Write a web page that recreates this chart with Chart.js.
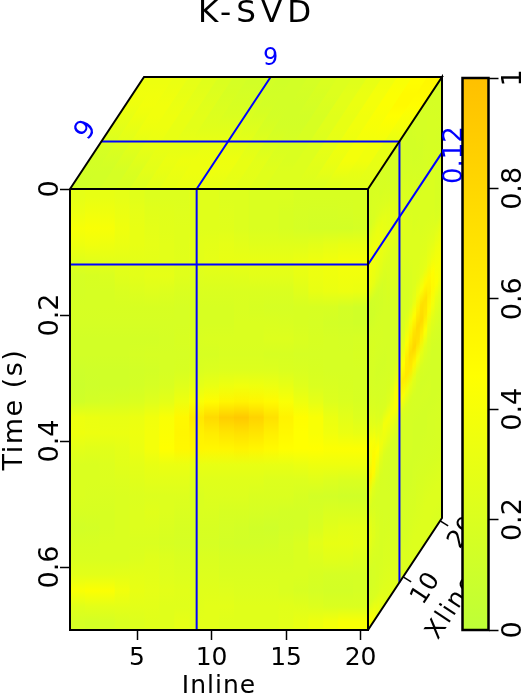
<!DOCTYPE html>
<html>
<head>
<meta charset="utf-8">
<script src="https://cdn.jsdelivr.net/npm/chart.js@4"></script>
<style>
    html, body { margin: 0; padding: 0; background: #fff; overflow: hidden; }
    canvas { position: absolute; top: 0; }
    #cube { left: 0; }
    #bar { left: 452px; }
</style>
</head>
<body>
<canvas id="cube" width="514" height="696"></canvas>
<canvas id="bar" width="70" height="696"></canvas>
<script>
    var titleText = 'K-SVD';
    var inlineLabel = 'Inline';
    var timeLabel = 'Time (s)';
    var xlineLabel = 'Xline';

    var inlineRange = [0.5, 20.5];
    var xlineRange = [0.5, 20.5];
    var timeRange = [0, 0.7];
    var barRange = [0, 1];
    var inlineTicks = [5, 10, 15, 20];
    var timeTicks = [0, 0.2, 0.4, 0.6];
    var xlineTicks = [10, 20];
    var barTicks = [0, 0.2, 0.4, 0.6, 0.8, 1];

    // blue slice positions
    var sliceInline = 9;
    var sliceXline = 9;
    var sliceTime = 0.12;

    // value -> colour, same for cube and colour bar
    var colorStops = [0, 0.46, 1];
    var colorValues = [[190, 255, 55], [255, 255, 0], [255, 192, 0]];

    // front face: one row per 0.025 s, one column per inline
    var frontFace = [
        [.28,.30,.30,.28,.25,.22,.22,.22,.24,.24,.22,.22,.20,.20,.20,.18,.18,.18,.18,.18],
        [.33,.36,.35,.32,.28,.25,.24,.23,.24,.24,.23,.22,.20,.20,.18,.17,.16,.16,.17,.18],
        [.40,.42,.40,.35,.30,.27,.25,.24,.24,.24,.24,.22,.20,.20,.18,.16,.15,.15,.15,.16],
        [.34,.36,.34,.32,.30,.28,.26,.24,.26,.27,.28,.26,.24,.24,.24,.24,.26,.28,.30,.30],
        [.25,.26,.27,.27,.27,.27,.26,.25,.26,.28,.30,.30,.30,.30,.30,.32,.34,.36,.38,.38],
        [.17,.18,.20,.24,.26,.28,.28,.24,.23,.24,.24,.25,.26,.26,.26,.30,.33,.35,.36,.36],
        [.16,.17,.18,.20,.22,.23,.22,.20,.20,.20,.20,.20,.20,.20,.20,.24,.30,.32,.33,.32],
        [.17,.17,.18,.18,.18,.18,.18,.17,.18,.18,.18,.19,.18,.17,.17,.18,.18,.18,.15,.13],
        [.16,.16,.17,.17,.17,.17,.17,.17,.18,.18,.18,.20,.20,.20,.19,.18,.17,.15,.14,.13],
        [.14,.14,.15,.15,.15,.15,.16,.18,.19,.20,.20,.20,.20,.22,.22,.20,.18,.17,.16,.17],
        [.14,.14,.15,.15,.16,.17,.17,.17,.18,.18,.19,.19,.19,.18,.18,.17,.17,.17,.17,.18],
        [.11,.12,.13,.13,.14,.15,.17,.18,.20,.21,.22,.22,.22,.22,.20,.19,.18,.17,.17,.17],
        [.10,.11,.13,.13,.15,.17,.19,.24,.28,.31,.34,.36,.35,.33,.30,.24,.20,.19,.18,.17],
        [.13,.15,.17,.18,.20,.23,.27,.34,.42,.49,.54,.56,.54,.50,.42,.34,.28,.22,.20,.18],
        [.33,.32,.30,.30,.32,.36,.42,.52,.66,.78,.88,.92,.84,.72,.56,.48,.42,.32,.26,.22],
        [.34,.33,.32,.32,.34,.38,.44,.54,.58,.62,.68,.72,.68,.60,.52,.46,.42,.36,.32,.30],
        [.26,.25,.25,.27,.32,.38,.46,.52,.54,.53,.54,.56,.54,.50,.47,.46,.46,.44,.44,.44],
        [.20,.20,.22,.25,.27,.30,.32,.32,.30,.30,.30,.30,.30,.30,.30,.32,.34,.34,.34,.34],
        [.20,.20,.21,.22,.24,.26,.26,.26,.24,.24,.24,.24,.24,.22,.22,.22,.24,.22,.20,.20],
        [.20,.19,.19,.20,.21,.22,.22,.22,.20,.22,.22,.22,.20,.20,.20,.18,.15,.14,.13,.13],
        [.18,.18,.18,.20,.22,.24,.22,.20,.20,.20,.18,.18,.17,.16,.15,.15,.17,.20,.20,.20],
        [.14,.15,.18,.20,.22,.22,.20,.18,.18,.18,.16,.15,.13,.12,.14,.15,.20,.25,.27,.27],
        [.18,.18,.20,.20,.20,.20,.18,.17,.17,.17,.15,.14,.14,.15,.17,.20,.26,.30,.30,.28],
        [.20,.20,.20,.20,.22,.24,.22,.20,.20,.20,.18,.18,.18,.18,.18,.20,.22,.25,.24,.22],
        [.26,.26,.26,.27,.27,.26,.23,.22,.22,.22,.20,.20,.20,.20,.20,.20,.18,.16,.16,.16],
        [.42,.44,.43,.36,.30,.28,.26,.25,.24,.24,.23,.22,.22,.22,.20,.18,.16,.15,.15,.16],
        [.24,.26,.27,.27,.26,.26,.24,.24,.25,.26,.26,.24,.24,.24,.25,.24,.22,.20,.20,.20],
        [.16,.15,.17,.20,.22,.24,.24,.28,.26,.26,.24,.24,.24,.24,.26,.30,.34,.38,.42,.42]
    ];

    // side face: one row per 0.025 s, one column per xline
    var sideFace = [
        [.18,.18,.18,.17,.17,.16,.16,.16,.16,.16,.15,.15,.16,.16,.16,.16,.16,.16,.16,.16],
        [.18,.19,.19,.18,.18,.17,.17,.16,.16,.16,.15,.15,.15,.16,.16,.16,.17,.17,.16,.16],
        [.17,.19,.21,.22,.21,.20,.19,.18,.18,.17,.16,.16,.15,.15,.15,.16,.17,.17,.17,.17],
        [.28,.30,.31,.30,.28,.26,.24,.22,.20,.20,.19,.18,.17,.16,.16,.17,.17,.17,.16,.16],
        [.36,.36,.35,.33,.30,.28,.26,.25,.23,.22,.20,.20,.19,.18,.17,.17,.18,.18,.18,.17],
        [.36,.34,.32,.30,.28,.27,.26,.25,.24,.24,.22,.20,.20,.20,.20,.20,.20,.20,.18,.17],
        [.32,.30,.26,.24,.22,.22,.22,.22,.22,.22,.22,.22,.20,.20,.20,.20,.20,.20,.18,.17],
        [.13,.14,.15,.16,.18,.20,.22,.22,.22,.22,.22,.22,.22,.22,.20,.20,.20,.20,.18,.18],
        [.13,.13,.14,.15,.16,.18,.20,.20,.20,.20,.20,.22,.22,.22,.22,.22,.22,.22,.20,.20],
        [.17,.16,.16,.16,.16,.16,.17,.18,.18,.18,.19,.20,.22,.22,.24,.24,.26,.26,.28,.30],
        [.18,.18,.17,.17,.16,.16,.17,.18,.18,.18,.18,.20,.22,.24,.26,.28,.32,.34,.36,.36],
        [.17,.17,.16,.16,.16,.16,.17,.17,.18,.18,.20,.22,.28,.36,.42,.50,.52,.48,.40,.40],
        [.17,.16,.15,.15,.15,.16,.16,.16,.18,.22,.30,.38,.48,.60,.72,.72,.60,.50,.44,.38],
        [.18,.17,.16,.16,.16,.16,.17,.18,.24,.32,.44,.58,.70,.78,.78,.66,.50,.38,.30,.26],
        [.22,.20,.18,.17,.17,.18,.20,.24,.34,.46,.62,.74,.80,.72,.60,.44,.30,.25,.22,.20],
        [.30,.26,.22,.20,.20,.22,.30,.40,.52,.62,.66,.64,.54,.40,.30,.24,.20,.18,.17,.16],
        [.44,.40,.32,.30,.38,.38,.38,.42,.46,.42,.36,.30,.25,.20,.18,.17,.16,.15,.15,.15],
        [.36,.50,.46,.36,.32,.30,.26,.24,.22,.20,.19,.18,.17,.16,.15,.15,.15,.15,.15,.15],
        [.58,.50,.32,.24,.20,.19,.18,.17,.17,.16,.16,.16,.16,.16,.16,.16,.16,.15,.15,.15],
        [.30,.24,.20,.18,.17,.17,.16,.16,.16,.16,.16,.16,.15,.15,.15,.15,.15,.15,.15,.15],
        [.20,.18,.17,.17,.17,.16,.16,.16,.16,.16,.16,.16,.15,.15,.15,.15,.16,.16,.16,.16],
        [.27,.22,.18,.17,.17,.17,.16,.16,.15,.15,.15,.15,.15,.15,.16,.16,.16,.16,.17,.17],
        [.28,.24,.20,.18,.17,.17,.17,.16,.16,.15,.15,.15,.16,.16,.17,.17,.17,.17,.17,.17],
        [.22,.20,.19,.18,.18,.18,.17,.16,.16,.16,.16,.17,.17,.18,.18,.18,.18,.18,.18,.18],
        [.16,.17,.18,.18,.19,.19,.18,.18,.17,.17,.17,.18,.18,.19,.19,.20,.20,.20,.20,.20],
        [.16,.17,.18,.19,.20,.20,.20,.20,.19,.18,.18,.19,.20,.20,.21,.22,.22,.22,.22,.22],
        [.20,.20,.20,.21,.22,.22,.22,.22,.22,.21,.20,.21,.22,.22,.22,.22,.22,.22,.22,.22],
        [.42,.38,.32,.28,.25,.24,.24,.23,.23,.22,.22,.22,.22,.22,.22,.22,.22,.20,.20,.20]
    ];

    // top face: rows go from the front edge to the back edge, one column per inline
    var topFace = [
        [.13,.14,.16,.18,.22,.26,.30,.32,.32,.30,.28,.26,.24,.22,.22,.22,.22,.24,.26,.26],
        [.14,.14,.16,.20,.26,.30,.32,.34,.34,.33,.30,.27,.24,.22,.22,.24,.28,.32,.30,.28],
        [.15,.16,.20,.24,.28,.32,.34,.34,.34,.34,.30,.26,.22,.20,.22,.26,.32,.38,.36,.30],
        [.17,.20,.24,.28,.30,.30,.30,.32,.32,.30,.26,.22,.20,.20,.22,.28,.34,.38,.36,.30],
        [.22,.26,.30,.32,.30,.28,.28,.28,.28,.26,.22,.18,.16,.18,.22,.28,.34,.38,.38,.32],
        [.26,.30,.34,.34,.30,.26,.24,.24,.24,.22,.18,.15,.15,.18,.24,.30,.36,.40,.42,.38],
        [.30,.34,.36,.34,.30,.26,.22,.20,.20,.18,.15,.14,.14,.18,.24,.30,.36,.42,.46,.42],
        [.34,.37,.36,.32,.28,.24,.20,.18,.17,.15,.14,.14,.16,.20,.26,.32,.38,.44,.50,.48],
        [.36,.36,.34,.30,.26,.22,.18,.16,.15,.14,.14,.15,.18,.22,.26,.32,.38,.44,.50,.50],
        [.34,.34,.32,.28,.24,.20,.16,.14,.14,.13,.14,.16,.20,.22,.24,.30,.36,.42,.48,.52]
    ];

    var font = 'DejaVu Sans';
    var blue = '#0000ff';

    // one xline range moves the point this far in inline / time units
    var depthInline = 74 / 14.9;
    var depthTime = 112 / 630;

    function project(inline, time, xline) {
        var f = (xline - xlineRange[0]) / (xlineRange[1] - xlineRange[0]);
        return { x: inline + f * depthInline, y: time - f * depthTime };
    }

    function valueColor(v) {
        var i = v < colorStops[1] ? 0 : 1;
        var k = Math.min(1, Math.max(0, (v - colorStops[i]) / (colorStops[i + 1] - colorStops[i])));
        var a = colorValues[i], b = colorValues[i + 1];
        return 'rgb(' + [0, 1, 2].map(function (n) { return Math.round(a[n] + (b[n] - a[n]) * k); }).join(',') + ')';
    }

    // letter spacing is not a Chart.js font option, so wrap the draw call
    function spaced(obj, method, px) {
        if (obj['_sp' + method]) return;
        var orig = obj[method];
        obj[method] = function () {
            var ctx = this.ctx;
            ctx.letterSpacing = px + 'px';
            orig.apply(this, arguments);
            ctx.letterSpacing = '0px';
        };
        obj['_sp' + method] = true;
    }

    function fixedTicks(values) {
        return function (scale) {
            scale.ticks = values.map(function (v) { return { value: v }; });
        };
    }

    function plainLabel(v) {
        return String(v);
    }

    /*
     * a face is a parallelogram: columns are flat, rows are shaded along the column
     */
    function drawFace(chart, rows, o, u, v) {
        var ctx = chart.ctx, sx = chart.scales.x, sy = chart.scales.y;
        var px = function (p) { return [sx.getPixelForValue(p.x), sy.getPixelForValue(p.y)]; };
        var p0 = px(o), pu = px(u), pv = px(v);
        var nr = rows.length, nc = rows[0].length;
        ctx.save();
        ctx.transform(pu[0] - p0[0], pu[1] - p0[1], pv[0] - p0[0], pv[1] - p0[1], p0[0], p0[1]);
        for (var c = 0; c < nc; c++) {
            var g = ctx.createLinearGradient(0, 0, 0, 1);
            for (var r = 0; r < nr; r++) {
                g.addColorStop((r + 0.5) / nr, valueColor(rows[r][c]));
            }
            ctx.fillStyle = g;
            // runs under the next column so no seam shows
            ctx.fillRect(c / nc, 0, Math.min(2 / nc, 1 - c / nc), 1);
        }
        ctx.restore();
    }

    function drawText(chart, text, p, dx, dy, angle, size, color, spacing) {
        var ctx = chart.ctx;
        ctx.save();
        ctx.translate(chart.scales.x.getPixelForValue(p.x) + dx, chart.scales.y.getPixelForValue(p.y) + dy);
        ctx.rotate(angle);
        ctx.font = size + 'px "' + font + '"';
        ctx.fillStyle = color;
        ctx.textAlign = 'center';
        ctx.textBaseline = 'middle';
        ctx.letterSpacing = (spacing || 0) + 'px';
        ctx.fillText(text, 0, 0);
        ctx.restore();
    }

    var cubeFaces = {
        id: 'cubeFaces',
        beforeDraw: function (chart) {
            spaced(chart.scales.x, 'drawTitle', 1);
            spaced(chart.scales.y, 'drawTitle', 1.5);
            spaced(chart.titleBlock, 'draw', 5);
        },
        beforeDatasetsDraw: function (chart) {
            drawFace(chart, frontFace, project(i0, t0, x0), project(i1, t0, x0), project(i0, t1, x0));
            drawFace(chart, topFace, project(i0, t0, x0), project(i1, t0, x0), project(i0, t0, x1));
            drawFace(chart, sideFace, project(i1, t0, x0), project(i1, t0, x1), project(i1, t1, x0));
        },
        afterDatasetsDraw: function (chart) {
            var ctx = chart.ctx, sx = chart.scales.x, sy = chart.scales.y;
            var edge = -Math.atan2(112, 74);

            // xline axis along the bottom edge of the side face
            ctx.save();
            ctx.strokeStyle = '#000';
            ctx.lineWidth = 1.5;
            xlineTicks.forEach(function (v) {
                var p = project(i1, t1, v);
                var a = sx.getPixelForValue(p.x), b = sy.getPixelForValue(p.y);
                ctx.beginPath();
                ctx.moveTo(a, b);
                ctx.lineTo(a + 8, b + 5);
                ctx.stroke();
                drawText(chart, String(v), p, 23, 12, edge, 25);
            });
            ctx.restore();
            drawText(chart, xlineLabel, project(i1, t1, 10), 49, 30, edge, 25, '#000', 2);

            // slice labels in blue
            drawText(chart, String(sliceXline), project(i0, t0, sliceXline), -15, -11, edge, 27, blue);
            drawText(chart, String(sliceInline), project(sliceInline, t0, x1), 0, -18, 0, 24, blue);
            drawText(chart, String(sliceTime), project(i1, sliceTime, x1), 13, 2.5, -Math.PI / 2, 26, blue);
        }
    };

    function path(points) {
        return points.map(function (p) { return project(p[0], p[1], p[2]); });
    }

    var i0 = inlineRange[0], i1 = inlineRange[1], x0 = xlineRange[0], x1 = xlineRange[1], t0 = timeRange[0], t1 = timeRange[1];

    // the x values go back and forth so Chart.js keeps every point of the path
    var boxEdges = path([
        [i0, t0, x0], [i1, t0, x0], [i1, t1, x0], [i0, t1, x0], [i0, t0, x0],
        [i0, t0, x1], [i1, t0, x1], [i1, t0, x0], [i1, t0, x1], [i1, t1, x1], [i1, t1, x0]
    ]);
    var inlineSlice = path([[sliceInline, t1, x0], [sliceInline, t0, x0], [sliceInline, t0, x1]]);
    var timeSlice = path([[i1, sliceTime, x1], [i1, sliceTime, x0], [i0, sliceTime, x0]]);
    var xlineSlice = path([[i1, t1, sliceXline], [i1, t0, sliceXline], [i0, t0, sliceXline]]);

    function lineSet(data, color, width) {
        return {
            data: data,
            showLine: true,
            borderColor: color,
            borderWidth: width,
            pointRadius: 0,
            fill: false,
            tension: 0,
            clip: false
        };
    }

    var tickFont = { family: font, size: 25 };
    var sideFont = { family: font, size: 27 };

    new Chart('cube', {
        type: 'scatter',
        data: {
            datasets: [
                lineSet(boxEdges, '#000', 2),
                lineSet(inlineSlice, blue, 2),
                lineSet(timeSlice, blue, 2),
                lineSet(xlineSlice, blue, 2)
            ]
        },
        options: {
            responsive: false,
            animation: false,
            events: [],
            plugins: {
                legend: { display: false },
                tooltip: { enabled: false },
                title: {
                    display: true,
                    text: titleText,
                    color: '#000',
                    font: { family: font, size: 31, weight: 'normal', lineHeight: 1 },
                    padding: { top: -2, bottom: 160 }
                }
            },
            scales: {
                x: {
                    type: 'linear',
                    min: inlineRange[0],
                    max: inlineRange[1],
                    afterBuildTicks: fixedTicks(inlineTicks),
                    afterFit: function (s) { s.height = 66; },
                    border: { display: false },
                    grid: { drawOnChartArea: false, tickLength: 10, tickWidth: 1.5, tickColor: '#000' },
                    ticks: { callback: plainLabel, maxRotation: 0, autoSkip: false, color: '#000', font: tickFont, padding: 3.5 },
                    title: { display: true, text: inlineLabel, color: '#000', font: { family: font, size: 25, lineHeight: 1 }, padding: { top: 0, bottom: -3 } }
                },
                y: {
                    type: 'linear',
                    reverse: true,
                    min: timeRange[0],
                    max: timeRange[1],
                    afterBuildTicks: fixedTicks(timeTicks),
                    afterFit: function (s) { s.width = 70; },
                    border: { display: false },
                    grid: { drawOnChartArea: false, tickLength: 10, tickWidth: 1.5, tickColor: '#000' },
                    ticks: { callback: plainLabel, minRotation: 90, maxRotation: 90, crossAlign: 'center', autoSkip: false, color: '#000', font: sideFont, padding: -12 },
                    title: { display: true, text: timeLabel, color: '#000', font: { family: font, size: 27, lineHeight: 1 }, padding: { top: 1.5, bottom: 0 } }
                },
                // empty axis, only holds the room right of the cube so the title stays centred on the canvas
                room: {
                    type: 'linear',
                    axis: 'y',
                    position: 'right',
                    afterFit: function (s) { s.width = 146; },
                    border: { display: false },
                    grid: { display: false },
                    ticks: { display: false }
                }
            }
        },
        plugins: [cubeFaces]
    });

    /*
     * colour bar in its own canvas, it covers whatever runs under it
     */
    var barOutline = {
        id: 'barOutline',
        afterDatasetsDraw: function (chart) {
            var a = chart.chartArea, ctx = chart.ctx;
            ctx.save();
            ctx.strokeStyle = '#000';
            ctx.lineWidth = 2.5;
            ctx.strokeRect(a.left, a.top, a.right - a.left, a.bottom - a.top);
            ctx.restore();
        }
    };

    new Chart('bar', {
        type: 'bar',
        data: {
            labels: [''],
            datasets: [{
                data: [barRange],
                barPercentage: 1,
                categoryPercentage: 1,
                backgroundColor: function (c) {
                    var s = c.chart.scales.y;
                    if (!c.chart.chartArea || !s) return 'transparent';
                    var top = s.getPixelForValue(barRange[1]), bottom = s.getPixelForValue(barRange[0]);
                    var g = c.chart.ctx.createLinearGradient(0, bottom, 0, top);
                    colorStops.forEach(function (v) { g.addColorStop(v, valueColor(v)); });
                    return g;
                }
            }]
        },
        options: {
            responsive: false,
            animation: false,
            events: [],
            layout: { padding: { left: 10.5, right: 0, top: 78, bottom: 66 } },
            plugins: { legend: { display: false }, tooltip: { enabled: false } },
            scales: {
                x: { display: false },
                y: {
                    position: 'right',
                    min: barRange[0],
                    max: barRange[1],
                    afterBuildTicks: fixedTicks(barTicks),
                    afterFit: function (s) { s.width = 33.5; },
                    border: { display: false },
                    grid: { drawOnChartArea: false, tickLength: 10, tickWidth: 1.5, tickColor: '#000' },
                    ticks: { callback: plainLabel, minRotation: 90, maxRotation: 90, crossAlign: 'center', autoSkip: false, color: '#000', font: sideFont, padding: -6 }
                }
            }
        },
        plugins: [barOutline]
    });
</script>
</body>
</html>
